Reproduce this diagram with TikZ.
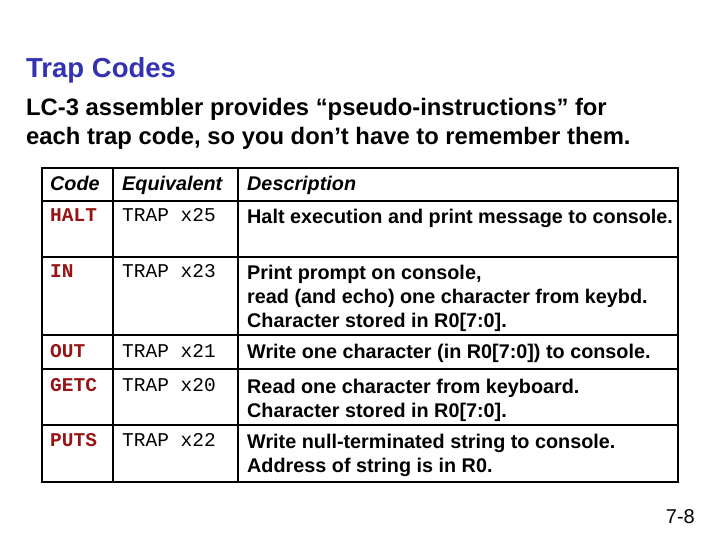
\documentclass[tikz,border=0pt]{standalone}
\usepackage{fontspec}
\setmainfont{Liberation Sans}
\setmonofont{Liberation Mono}
\definecolor{titleblue}{RGB}{51,51,178}
\definecolor{codered}{RGB}{150,20,20}
\begin{document}
\begin{tikzpicture}[x=1pt,y=-1pt,
  txt/.style={anchor=base west,inner sep=0pt,font=\fontsize{19.8}{22}\selectfont\bfseries},
  hdr/.style={txt,font=\fontsize{19.8}{22}\selectfont\bfseries\itshape},
  mono/.style={anchor=base west,inner sep=0pt,font=\fontsize{19.5}{22}\selectfont\ttfamily},
  code/.style={mono,text=codered,font=\fontsize{19.5}{22}\selectfont\ttfamily\bfseries}]
\useasboundingbox (0,0) rectangle (720,540);
\node[anchor=base west,inner sep=0pt,text=titleblue,font=\fontsize{27.5}{30}\selectfont\bfseries] (title) at (26,78) {Trap Codes};
\node[txt,font=\fontsize{23.8}{26}\selectfont\bfseries] (intro1) at (26,116) {LC-3 assembler provides “pseudo-instructions” for};
\node[txt,font=\fontsize{23.8}{26}\selectfont\bfseries] (intro2) at (26,145) {each trap code, so you don’t have to remember them.};
% table frame
\draw[line width=2.5pt] (42,168) rectangle (678,482);
\draw[line width=2pt] (113,168) -- (113,482) (238,168) -- (238,482);
\foreach \y in {201,257,335,369,425}
  \draw[line width=2pt] (42,\y) -- (678,\y);
% header
\node[hdr] (hcode) at (50,191) {Code};
\node[hdr] (hequiv) at (122,191) {Equivalent};
\node[hdr] (hdesc) at (247,191) {Description};
% rows
\node[code] (halt) at (50,222) {HALT};
\node[mono] (halteq) at (122,222) {TRAP x25};
\node[txt] (haltd) at (247,224) {Halt execution and print message to console.};
\node[code] (in) at (50,277) {IN};
\node[mono] (ineq) at (122,277) {TRAP x23};
\node[txt] (ind1) at (247,279) {Print prompt on console,};
\node[txt] (ind2) at (247,303) {read (and echo) one character from keybd.};
\node[txt] (ind3) at (247,327) {Character stored in R0[7:0].};
\node[code] (out) at (50,357) {OUT};
\node[mono] (outeq) at (122,357) {TRAP x21};
\node[txt] (outd) at (247,358) {Write one character (in R0[7:0]) to console.};
\node[code] (getc) at (50,391) {GETC};
\node[mono] (getceq) at (122,391) {TRAP x20};
\node[txt] (getcd1) at (247,393) {Read one character from keyboard.};
\node[txt] (getcd2) at (247,417) {Character stored in R0[7:0].};
\node[code] (puts) at (50,446) {PUTS};
\node[mono] (putseq) at (122,446) {TRAP x22};
\node[txt] (putsd1) at (247,448) {Write null-terminated string to console.};
\node[txt] (putsd2) at (247,472) {Address of string is in R0.};
\node[anchor=base east,inner sep=0pt,font=\fontsize{20}{22}\selectfont] (page) at (695,523) {7-8};
\end{tikzpicture}
\end{document}
